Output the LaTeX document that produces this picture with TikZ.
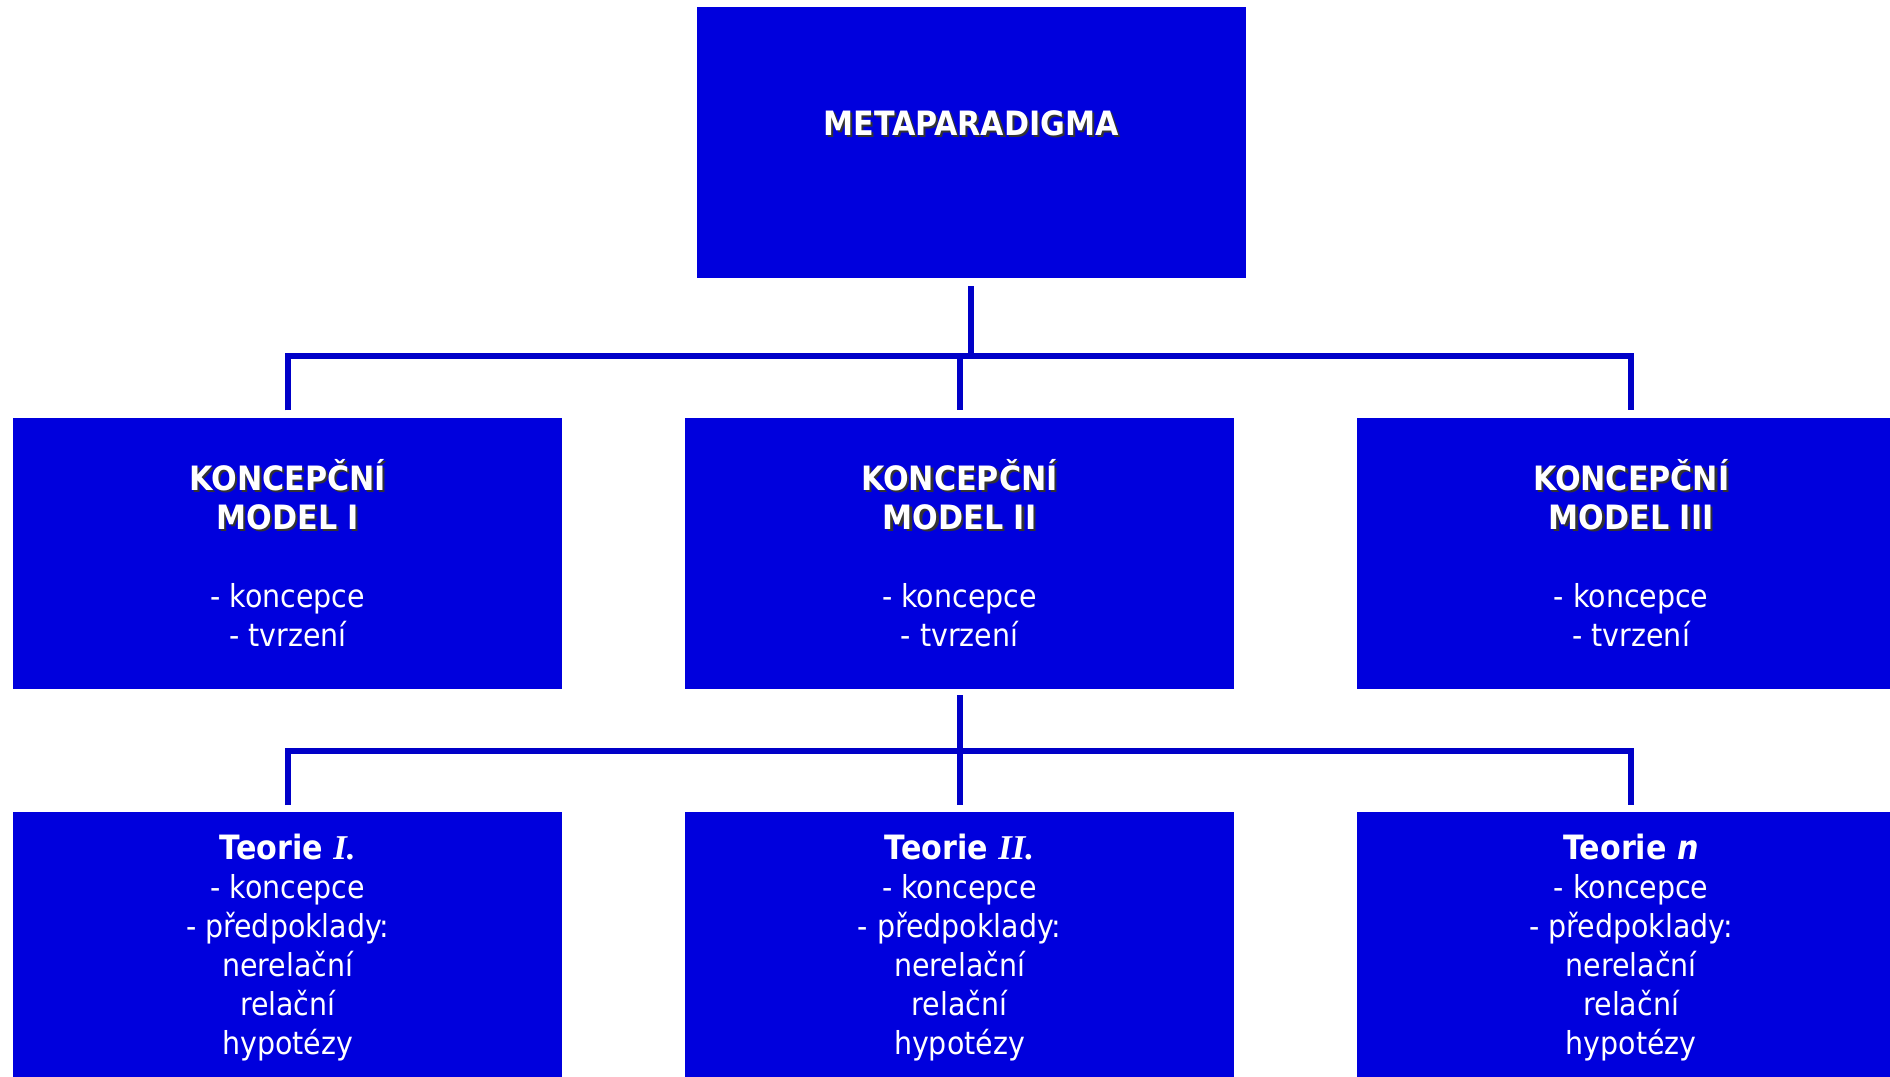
\documentclass[tikz,border=0pt]{standalone}
\usepackage{fontspec}
\setmainfont{DejaVu Sans Condensed}[BoldFeatures={Scale=1.06},BoldItalicFeatures={Scale=1.06}]
\newfontfamily\serifbi{Liberation Serif}[Scale=1.1]
\usetikzlibrary{positioning}
\definecolor{boxblue}{RGB}{0,0,221}
\definecolor{lineblue}{RGB}{0,0,200}
% white heading with a dark drop shadow
\newcommand{\shd}[1]{\makebox[0pt][l]{\hspace{1.3pt}\raisebox{-1.3pt}{\color{black!80}#1}}#1}

\begin{document}
\begin{tikzpicture}[mbox/.style={rectangle,fill=boxblue,text=white,inner sep=0pt,minimum width=10.98cm,minimum height=5.42cm,align=center,font=\fontsize{18}{22.2}\selectfont}, link/.style={draw=lineblue,line width=0.12cm}]
				\useasboundingbox (0,0) rectangle (37.8,-21.54);
				\node[mbox] (meta) at (19.42,-2.85) {\shd{\textbf{METAPARADIGMA}}\\ \mbox{}};
				\node[mbox] (model2) [below=2.78cm of meta, xshift=-0.23cm] {\shd{\textbf{KONCEPČNÍ}}\\ \shd{\textbf{MODEL II}}\\ \mbox{}\\ - koncepce\\ - tvrzení};
				\node[mbox] (model1) [left=2.44cm of model2] {\shd{\textbf{KONCEPČNÍ}}\\ \shd{\textbf{MODEL I}}\\ \mbox{}\\ - koncepce\\ - tvrzení};
				\node[mbox] (model3) [right=2.44cm of model2] {\shd{\textbf{KONCEPČNÍ}}\\ \shd{\textbf{MODEL III}}\\ \mbox{}\\ - koncepce\\ - tvrzení};
				\node[mbox] (teorie2) [below=2.46cm of model2] {\textbf{Teorie {\serifbi\itshape II.}}\\ - koncepce\\ - předpoklady:\\ nerelační\\ relační\\ hypotézy};
				\node[mbox] (teorie1) [left=2.44cm of teorie2] {\textbf{Teorie {\serifbi\itshape I.}}\\ - koncepce\\ - předpoklady:\\ nerelační\\ relační\\ hypotézy};
				\node[mbox] (teorien) [right=2.44cm of teorie2] {\textbf{Teorie \textit{n}}\\ - koncepce\\ - předpoklady:\\ nerelační\\ relační\\ hypotézy};
				\coordinate (hub1) at ([yshift=-1.56cm]meta.south);
				\coordinate (hub2) at ([yshift=-1.24cm]model2.south);
				\draw [link] ([yshift=-0.16cm]meta.south) to (hub1);
				\draw [link] ([yshift=0.14cm]model1.north) -- (model1.north |- hub1) -- (model3.north |- hub1) -- ([yshift=0.14cm]model3.north);
				\draw [link] (model2.north |- hub1) to ([yshift=0.14cm]model2.north);
				\draw [link] ([yshift=-0.12cm]model2.south) to ([yshift=0.14cm]teorie2.north);
				\draw [link] ([yshift=0.14cm]teorie1.north) -- (teorie1.north |- hub2) -- (teorien.north |- hub2) -- ([yshift=0.14cm]teorien.north);
			\end{tikzpicture}
\end{document}
